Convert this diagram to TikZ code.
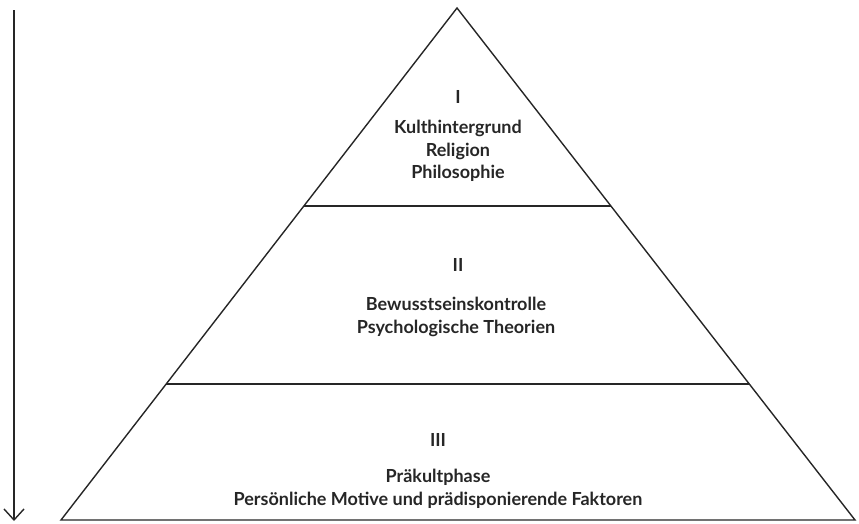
\documentclass[tikz,border=0pt]{standalone}
\usepackage{fontspec}
\setmainfont{Lato}
\usepackage{tikz}
\usetikzlibrary{calc,arrows.meta,positioning}
\newcommand{\tierfont}{\fontsize{18}{22.5}\selectfont\bfseries}

\begin{document}
\begin{tikzpicture}[x=1pt, y=-1pt,
  edge/.style={line width=1.4pt, black!85, line join=miter},
  arr/.style={-{Straight Barb[length=11pt, width=20pt]}, line width=1.4pt, black!85},
  numeral/.style={font=\tierfont, text=black!85, inner sep=0pt},
  tier/.style={font=\tierfont, text=black!85, align=center, inner sep=0pt}
]
  \useasboundingbox (0,0) rectangle (859,523);

  % pyramid
  \coordinate (apex) at (457,8);
  \coordinate (bl) at (61,520);
  \coordinate (br) at (855,520);
  \draw[edge] (bl) -- (apex) -- (br) -- cycle;
  \draw[edge] ($(bl)!0.613!(apex)$) -- ($(br)!0.613!(apex)$);
  \draw[edge] ($(bl)!0.266!(apex)$) -- ($(br)!0.266!(apex)$);

  % direction arrow
  \coordinate (top) at (14,10);
  \coordinate (bottom) at (14,521);
  \draw[arr] (top) -- (bottom);

  \node[numeral] (numI) at (458,97) {I};
  \node[tier] (tierI) at (458,151) {Kulthintergrund\\Religion\\Philosophie};

  \node[numeral] (numII) at (458,265) {II};
  \node[tier] (tierII) at (456,317) {Bewusstseinskontrolle\\Psychologische Theorien};

  \node[numeral] (numIII) at (438,440) {III};
  \node[tier] (tierIII) at (438,489) {Präkultphase\\Persönliche Motive und prädisponierende Faktoren};
\end{tikzpicture}
\end{document}
